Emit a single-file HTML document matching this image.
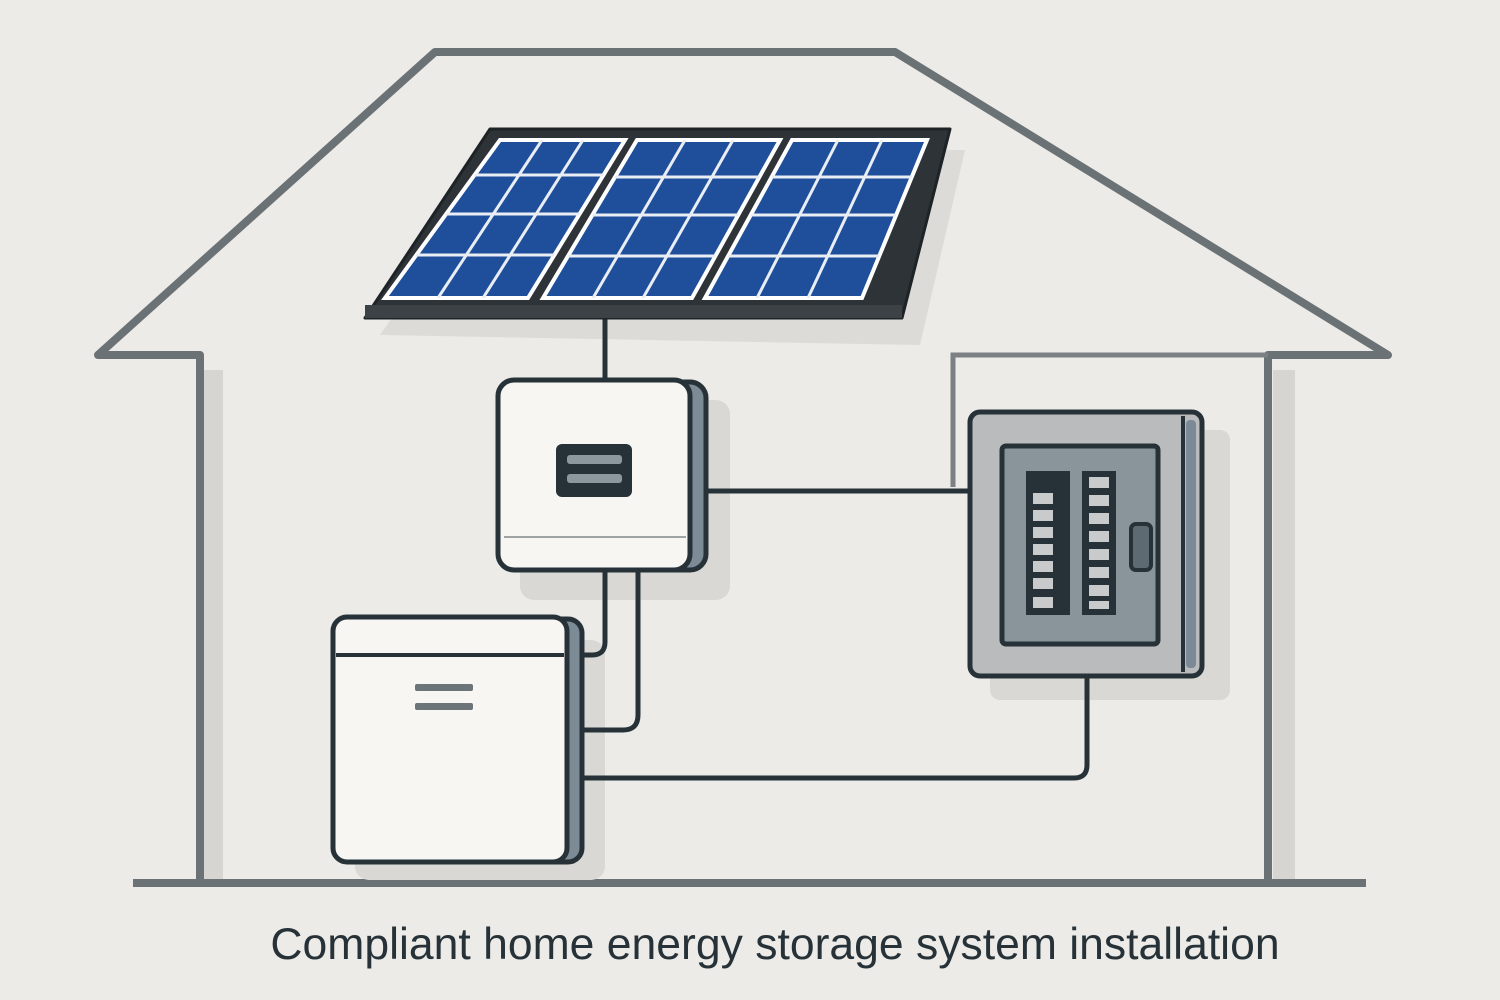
<!DOCTYPE html>
<html><head><meta charset="utf-8"><style>
html,body{margin:0;padding:0;background:#ecebe7;}
svg{display:block}
</style></head><body>
<svg width="1500" height="1000" viewBox="0 0 1500 1000" xmlns="http://www.w3.org/2000/svg">
<defs>
<clipPath id="p1"><polygon points="500,140 625,140 528,298 385,298"/></clipPath>
<clipPath id="p2"><polygon points="637,140 780,140 692,298 543,298"/></clipPath>
<clipPath id="p3"><polygon points="792,140 927,140 862,298 705,298"/></clipPath>
</defs>
<rect width="1500" height="1000" fill="#ecebe7"/>
<g stroke="#d6d5d1" stroke-width="22" fill="none">
<polyline points="212,370 212,880"/><polyline points="1284,370 1284,880"/>
</g>
<g stroke="#6b7275" stroke-width="8" fill="none" stroke-linejoin="round">
<polyline points="200,883 200,355 98,355 435,52 895,52 1388,355 1268,355 1268,883"/>
<line x1="133" y1="883" x2="1366" y2="883"/>
</g>
<polyline points="953,487 953,355 1268,355" stroke="#7a8083" stroke-width="5" fill="none"/>
<polygon points="380,335 510,150 965,150 920,345" fill="#dcdbd7"/>
<rect x="520" y="400" width="210" height="200" rx="14" fill="#d9d8d4"/>
<rect x="355" y="640" width="250" height="240" rx="14" fill="#d9d8d4"/>
<rect x="990" y="430" width="240" height="270" rx="10" fill="#d9d8d4"/>
<g stroke="#263238" stroke-width="5" fill="none" stroke-linejoin="round">
<line x1="605" y1="310" x2="605" y2="382"/>
<line x1="704" y1="491" x2="972" y2="491"/>
<path d="M605,568 V642 q0,13 -13,13 H560"/>
<path d="M638,568 V715 q0,15 -15,15 H575"/>
<path d="M1087,674 V765 q0,13 -13,13 H575"/>
</g>
<polygon points="490,129 950,129 902,318 365,318" fill="#2e3338" stroke="#1e2327" stroke-width="3" stroke-linejoin="round"/>
<polygon points="365,305 902,305 902,318 365,318" fill="#3d4246"/>
<g stroke="#fff" stroke-width="4" fill="#1f4f9a">
<polygon points="500,140 625,140 528,298 385,298"/>
<polygon points="637,140 780,140 692,298 543,298"/>
<polygon points="792,140 927,140 862,298 705,298"/>
</g>
<g stroke="#e9eef5" stroke-width="3" fill="none">
<g clip-path="url(#p1)">
<line x1="380" y1="175" x2="640" y2="175"/><line x1="380" y1="214" x2="640" y2="214"/><line x1="380" y1="255" x2="640" y2="255"/>
<line x1="542" y1="140" x2="438" y2="298"/><line x1="583" y1="140" x2="483" y2="298"/>
</g>
<g clip-path="url(#p2)">
<line x1="540" y1="177" x2="790" y2="177"/><line x1="540" y1="215" x2="790" y2="215"/><line x1="540" y1="256" x2="790" y2="256"/>
<line x1="685" y1="140" x2="593" y2="298"/><line x1="733" y1="140" x2="643" y2="298"/>
</g>
<g clip-path="url(#p3)">
<line x1="700" y1="177" x2="930" y2="177"/><line x1="700" y1="215" x2="930" y2="215"/><line x1="700" y1="256" x2="930" y2="256"/>
<line x1="838" y1="140" x2="757" y2="298"/><line x1="882" y1="140" x2="808" y2="298"/>
</g>
</g>
<rect x="512" y="382" width="194" height="188" rx="16" fill="#7d8b96" stroke="#263238" stroke-width="5"/>
<rect x="498" y="380" width="192" height="190" rx="16" fill="#f7f6f2" stroke="#263238" stroke-width="5"/>
<line x1="504" y1="537" x2="686" y2="537" stroke="#a0a3a4" stroke-width="2"/>
<rect x="556" y="444" width="76" height="53" rx="6" fill="#263238"/>
<rect x="567" y="455" width="55" height="9" rx="3" fill="#8d979e"/>
<rect x="567" y="474" width="55" height="9" rx="3" fill="#8d979e"/>
<rect x="348" y="619" width="234" height="243" rx="14" fill="#7d8b96" stroke="#263238" stroke-width="5"/>
<rect x="333" y="617" width="234" height="245" rx="14" fill="#f7f6f2" stroke="#263238" stroke-width="5"/>
<line x1="336" y1="655" x2="564" y2="655" stroke="#263238" stroke-width="4"/>
<rect x="415" y="684" width="58" height="7" rx="2" fill="#6b7479"/>
<rect x="415" y="703" width="58" height="7" rx="2" fill="#6b7479"/>
<rect x="970" y="412" width="232" height="264" rx="10" fill="#b9bbbc" stroke="#263238" stroke-width="5"/>
<line x1="1183" y1="416" x2="1183" y2="672" stroke="#263238" stroke-width="4"/>
<rect x="1186" y="420" width="10" height="248" rx="4" fill="#7b8a96"/>
<rect x="1002" y="446" width="156" height="198" rx="4" fill="#8a949b" stroke="#263238" stroke-width="5"/>
<rect x="1026" y="471" width="44" height="144" fill="#263238"/>
<rect x="1082" y="471" width="34" height="144" fill="#263238"/>
<g fill="#c8cacb">
<rect x="1033" y="493" width="20" height="11"/><rect x="1033" y="510" width="20" height="11"/><rect x="1033" y="527" width="20" height="11"/><rect x="1033" y="544" width="20" height="11"/><rect x="1033" y="561" width="20" height="11"/><rect x="1033" y="578" width="20" height="11"/><rect x="1033" y="597" width="20" height="11"/>
<rect x="1089" y="477" width="20" height="11"/><rect x="1089" y="495" width="20" height="11"/><rect x="1089" y="513" width="20" height="11"/><rect x="1089" y="531" width="20" height="11"/><rect x="1089" y="549" width="20" height="11"/><rect x="1089" y="567" width="20" height="11"/><rect x="1089" y="585" width="20" height="11"/><rect x="1089" y="601" width="20" height="8"/>
</g>
<rect x="1131" y="524" width="20" height="46" rx="5" fill="#5d6a72" stroke="#263238" stroke-width="4"/>
<text x="775" y="959" text-anchor="middle" font-family="Liberation Sans, sans-serif" font-size="44.5" fill="#263238">Compliant home energy storage system installation</text>
</svg>
</body></html>
